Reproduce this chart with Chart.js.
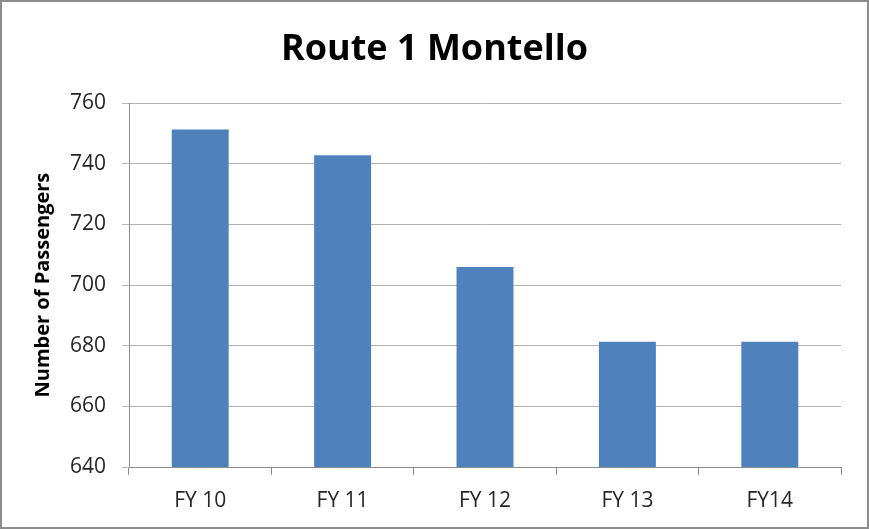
<!DOCTYPE html>
<html>
<head>
<meta charset="utf-8">
<script src="https://cdn.jsdelivr.net/npm/chart.js@4.4.1/dist/chart.umd.min.js"></script>
<style>
    body { margin: 0; background: #fff; }
    #wrap { position: relative; width: 869px; height: 529px; }
    #frame {
        position: absolute; left: 0; top: 0; width: 869px; height: 529px;
        box-sizing: border-box; border: 2px solid #8c8c8c; pointer-events: none;
    }
</style>
</head>
<body>
<div id="wrap">
    <canvas id="routeChart" width="869" height="529"></canvas>
    <div id="frame"></div>
</div>
<script>
// Chart data
const categories = ['FY 10', 'FY 11', 'FY 12', 'FY 13', 'FY14'];
const passengers = [751.3, 742.8, 706.0, 681.3, 681.3];
const yTicks = [640, 660, 680, 700, 720, 740, 760];

const fontFamily = '"Open Sans", "Noto Sans", sans-serif';

new Chart(document.getElementById('routeChart'), {
    type: 'bar',
    data: {
        labels: categories,
        datasets: [{
            label: 'Passengers',
            data: passengers,
            backgroundColor: '#4f81bd',
            borderWidth: 0,
            barPercentage: 0.4,
            categoryPercentage: 1.0
        }]
    },
    options: {
        responsive: false,
        animation: false,
        layout: {
            padding: 0
        },
        plugins: {
            legend: { display: false },
            tooltip: { enabled: false },
            title: {
                display: true,
                text: 'Route 1 Montello',
                color: '#000',
                font: { family: fontFamily, size: 36, weight: 'bold', lineHeight: 1.2 },
                padding: { top: 28, bottom: 32 }
            }
        },
        scales: {
            x: {
                afterFit: function(scale) { scale.height = 62; },
                grid: {
                    display: true,
                    drawOnChartArea: false,
                    offset: true,
                    tickLength: 8,
                    color: '#8c8c8c'
                },
                border: { color: '#8c8c8c' },
                ticks: {
                    color: '#262626',
                    padding: 13,
                    font: { family: fontFamily, size: 21 }
                }
            },
            y: {
                min: yTicks[0],
                max: yTicks[yTicks.length - 1],
                afterFit: function(scale) { scale.width = 129; },
                afterBuildTicks: function(scale) {
                    scale.ticks = yTicks.map(v => ({ value: v }));
                },
                grid: {
                    color: '#b3b3b3',
                    tickLength: 7
                },
                border: { color: '#8c8c8c' },
                ticks: {
                    color: '#262626',
                    padding: 16,
                    font: { family: fontFamily, size: 21 }
                },
                title: {
                    display: true,
                    text: 'Number of Passengers',
                    color: '#000',
                    font: { family: fontFamily, size: 20, weight: 'bold', lineHeight: 1.2 },
                    padding: { top: 31, bottom: 0 }
                }
            },
            // empty right-hand axis keeps the plot clear of the right edge
            // while the title stays centred on the whole picture
            yRight: {
                position: 'right',
                display: true,
                afterFit: function(scale) { scale.width = 28; },
                grid: { display: false },
                border: { display: false },
                ticks: { display: false }
            }
        }
    }
});
</script>
</body>
</html>
